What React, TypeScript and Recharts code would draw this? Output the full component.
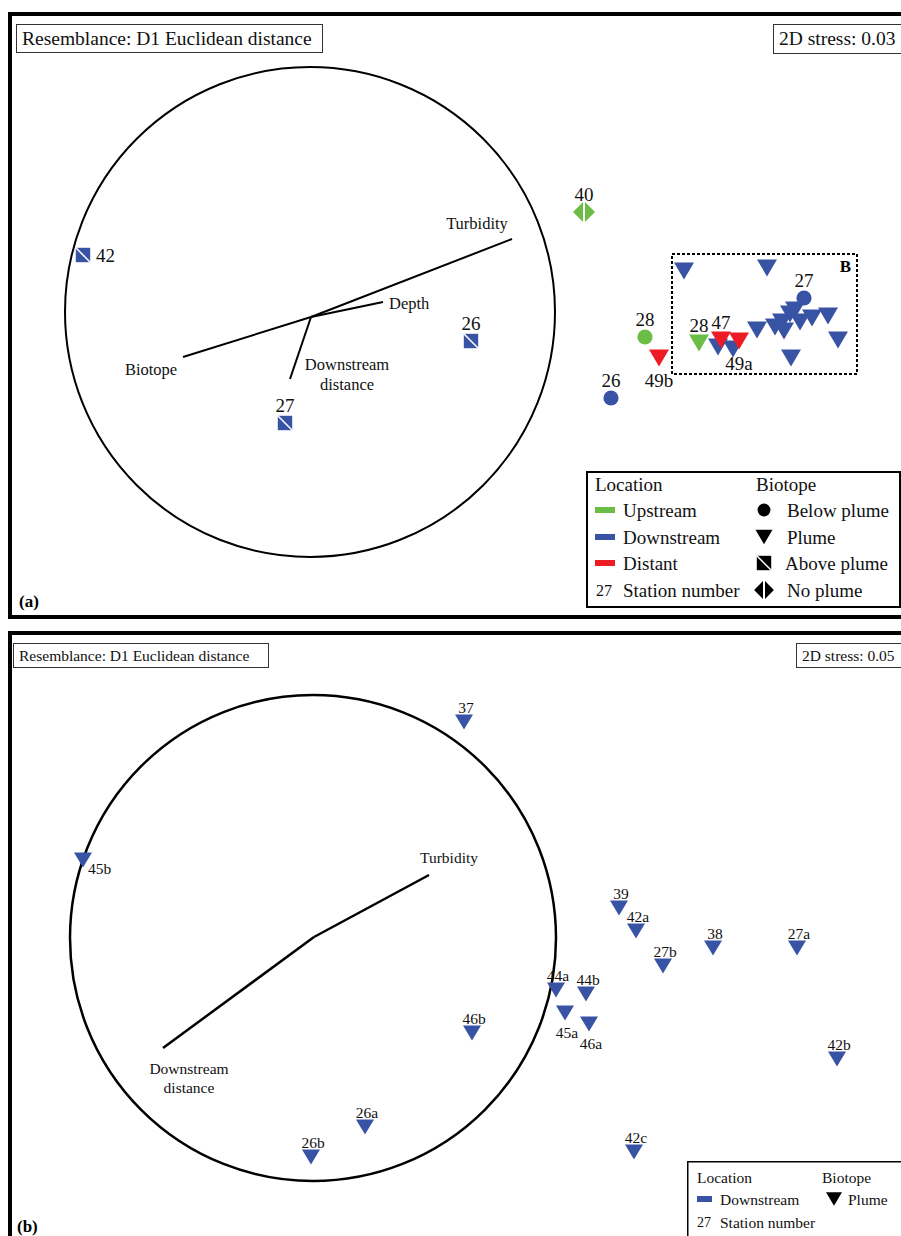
import React from "react";
import {
  ScatterChart,
  Scatter,
  XAxis,
  YAxis,
  ReferenceLine,
  ReferenceDot,
  ReferenceArea,
} from "recharts";

type Biotope = "below" | "plume" | "above" | "none";
type Side = "top" | "bottom" | "right" | "rightBelow";

interface Station {
  label: string;
  biotope: Biotope;
  x: number;
  y: number;
}

interface Vector {
  name: string[];
  x: number;
  y: number;
}

// ---- panel (a): nMDS scores, 3 locations
const upstreamA: Station[] = [
  { label: "40", biotope: "none", x: 2.74, y: 1.0 },
  { label: "28", biotope: "below", x: 3.35, y: -0.25 },
  { label: "28", biotope: "plume", x: 3.89, y: -0.31 },
];

const downstreamA: Station[] = [
  { label: "42", biotope: "above", x: -2.27, y: 0.57 },
  { label: "26", biotope: "above", x: 1.61, y: -0.29 },
  { label: "27", biotope: "above", x: -0.25, y: -1.11 },
  { label: "26", biotope: "below", x: 3.01, y: -0.86 },
  { label: "27", biotope: "below", x: 4.94, y: 0.14 },
  { label: "", biotope: "plume", x: 3.74, y: 0.41 },
  { label: "", biotope: "plume", x: 4.57, y: 0.44 },
  { label: "", biotope: "plume", x: 4.08, y: -0.35 },
  { label: "", biotope: "plume", x: 4.23, y: -0.37 },
  { label: "", biotope: "plume", x: 4.47, y: -0.18 },
  { label: "", biotope: "plume", x: 4.65, y: -0.15 },
  { label: "", biotope: "plume", x: 4.72, y: -0.1 },
  { label: "", biotope: "plume", x: 4.74, y: -0.19 },
  { label: "", biotope: "plume", x: 4.8, y: -0.02 },
  { label: "", biotope: "plume", x: 4.85, y: 0.02 },
  { label: "", biotope: "plume", x: 4.9, y: -0.1 },
  { label: "", biotope: "plume", x: 5.02, y: -0.06 },
  { label: "", biotope: "plume", x: 5.18, y: -0.04 },
  { label: "", biotope: "plume", x: 5.28, y: -0.28 },
  { label: "", biotope: "plume", x: 4.81, y: -0.46 },
];

const distantA: Station[] = [
  { label: "47", biotope: "plume", x: 4.11, y: -0.28 },
  { label: "49a", biotope: "plume", x: 4.29, y: -0.29 },
  { label: "49b", biotope: "plume", x: 3.49, y: -0.46 },
];

const originA = { x: 0.01, y: -0.05 };
const vectorsA: Vector[] = [
  { name: ["Turbidity"], x: 2.02, y: 0.73 },
  { name: ["Biotope"], x: -1.27, y: -0.45 },
  { name: ["Depth"], x: 0.73, y: 0.1 },
  { name: ["Downstream", "distance"], x: -0.2, y: -0.67 },
];

// box "B" around the plume group
const boxB = { x1: 3.62, x2: 5.47, y1: 0.58, y2: -0.62 };

// ---- panel (b): downstream plume stations only
const downstreamB: Station[] = [
  { label: "37", biotope: "plume", x: 1.51, y: 2.16 },
  { label: "45b", biotope: "plume", x: -2.3, y: 0.78 },
  { label: "46b", biotope: "plume", x: 1.59, y: -0.95 },
  { label: "26a", biotope: "plume", x: 0.52, y: -1.89 },
  { label: "26b", biotope: "plume", x: -0.02, y: -2.19 },
  { label: "39", biotope: "plume", x: 3.06, y: 0.3 },
  { label: "42a", biotope: "plume", x: 3.23, y: 0.07 },
  { label: "38", biotope: "plume", x: 4.0, y: -0.1 },
  { label: "27a", biotope: "plume", x: 4.84, y: -0.1 },
  { label: "27b", biotope: "plume", x: 3.5, y: -0.28 },
  { label: "44a", biotope: "plume", x: 2.43, y: -0.52 },
  { label: "44b", biotope: "plume", x: 2.73, y: -0.56 },
  { label: "45a", biotope: "plume", x: 2.52, y: -0.75 },
  { label: "46a", biotope: "plume", x: 2.76, y: -0.86 },
  { label: "42b", biotope: "plume", x: 5.24, y: -1.21 },
  { label: "42c", biotope: "plume", x: 3.21, y: -2.14 },
];

const originB = { x: 0.01, y: 0.01 };
const vectorsB: Vector[] = [
  { name: ["Turbidity"], x: 1.16, y: 0.63 },
  { name: ["Downstream", "distance"], x: -1.5, y: -1.1 },
];

const resemblanceText = "Resemblance: D1 Euclidean distance";
const stressA = "2D stress: 0.03";
const stressB = "2D stress: 0.05";

// label placement (default: above the symbol)
const labelSideA: Record<string, Side> = { "42": "right", "49a": "bottom", "49b": "bottom" };
const labelSideB: Record<string, Side> = { "45b": "rightBelow", "45a": "bottom", "46a": "bottom" };

// vector label offsets in px from the arrow end
const vecLabelA: Record<string, { dx: number; dy: number; anchor: string }> = {
  Turbidity: { dx: -35, dy: -16, anchor: "middle" },
  Biotope: { dx: -32, dy: 12, anchor: "middle" },
  Depth: { dx: 6, dy: 1, anchor: "start" },
  Downstream: { dx: 57, dy: -15, anchor: "middle" },
};
const vecLabelB: Record<string, { dx: number; dy: number; anchor: string }> = {
  Turbidity: { dx: 20, dy: -18, anchor: "middle" },
  Downstream: { dx: 26, dy: 20, anchor: "middle" },
};

const FONT = '"Liberation Serif", "Times New Roman", serif';
const GREEN = "#6cbd45";
const BLUE = "#3953a4";
const RED = "#ed1c24";

function symbol(kind: Biotope, color: string, cx: number, cy: number, s: number) {
  if (kind === "below") return <circle cx={cx} cy={cy} r={s * 0.38} fill={color} />;
  if (kind === "plume") {
    const h = s * 0.42;
    return (
      <polygon
        points={`${cx - s / 2},${cy - h} ${cx + s / 2},${cy - h} ${cx},${cy + h}`}
        fill={color}
      />
    );
  }
  if (kind === "above") {
    const h = s * 0.36;
    return (
      <g>
        <rect x={cx - h} y={cy - h} width={h * 2} height={h * 2} fill={color} />
        <line x1={cx - h} y1={cy - h} x2={cx + h} y2={cy + h} stroke="#fff" strokeWidth={1.5} />
      </g>
    );
  }
  const w = s * 0.55;
  const h = s * 0.5;
  return (
    <g fill={color}>
      <polygon points={`${cx - w},${cy} ${cx - 1},${cy - h} ${cx - 1},${cy + h}`} />
      <polygon points={`${cx + w},${cy} ${cx + 1},${cy - h} ${cx + 1},${cy + h}`} />
    </g>
  );
}

function stationShape(
  color: string,
  size: number,
  fontSize: number,
  sides: Record<string, Side>,
  off: { top: number; bottom: number; right: number; dx: number }
) {
  return (props: any) => {
    const { cx, cy, payload } = props;
    const side = sides[payload.label] || "top";
    let tx = cx + off.dx;
    let ty = cy - off.top;
    let anchor = "middle";
    if (side === "bottom") ty = cy + off.bottom;
    if (side === "right") {
      tx = cx + off.right;
      ty = cy;
      anchor = "start";
    }
    if (side === "rightBelow") {
      tx = cx + 5;
      ty = cy + 8;
      anchor = "start";
    }
    return (
      <g>
        {symbol(payload.biotope, color, cx, cy, size)}
        {payload.label && (
          <text
            x={tx}
            y={ty}
            textAnchor={anchor}
            dominantBaseline="central"
            fontFamily={FONT}
            fontSize={fontSize}
            fill="#111"
          >
            {payload.label}
          </text>
        )}
      </g>
    );
  };
}

function vectorLabelShape(fontSize: number, offs: Record<string, { dx: number; dy: number; anchor: string }>) {
  return (props: any) => {
    const { cx, cy, payload } = props;
    const o = offs[payload.name[0]];
    return (
      <text
        x={cx + o.dx}
        y={cy + o.dy}
        textAnchor={o.anchor}
        dominantBaseline="central"
        fontFamily={FONT}
        fontSize={fontSize}
        fill="#111"
      >
        {payload.name.map((n: string, i: number) => (
          <tspan key={i} x={cx + o.dx} dy={i === 0 ? 0 : fontSize * 1.2}>
            {n}
          </tspan>
        ))}
      </text>
    );
  };
}

function LegendA() {
  const t = { fontFamily: FONT, fontSize: 19, fill: "#111" };
  const rows = [
    { name: "Upstream", color: GREEN, kind: "below" as Biotope, bio: "Below plume", y: 39 },
    { name: "Downstream", color: BLUE, kind: "plume" as Biotope, bio: "Plume", y: 66 },
    { name: "Distant", color: RED, kind: "above" as Biotope, bio: "Above plume", y: 92 },
  ];
  return (
    <svg
      width={320}
      height={140}
      style={{ position: "absolute", left: 586, top: 471, overflow: "visible" }}
    >
      <rect x={1} y={1} width={313} height={135} fill="#fff" stroke="#000" strokeWidth={2} />
      <text x={9} y={13} dominantBaseline="central" {...t}>Location</text>
      <text x={170} y={13} dominantBaseline="central" {...t}>Biotope</text>
      {rows.map((r) => (
        <g key={r.name}>
          <rect x={9} y={r.y - 3} width={20} height={6} fill={r.color} />
          <text x={37} y={r.y} dominantBaseline="central" {...t}>{r.name}</text>
          {symbol(r.kind, "#000", 178, r.y, r.kind === "above" ? 20 : 17)}
          <text x={r.kind === "above" ? 199 : 201} y={r.y} dominantBaseline="central" {...t}>{r.bio}</text>
        </g>
      ))}
      <text x={10} y={119} dominantBaseline="central" {...t} fontSize={16}>27</text>
      <text x={37} y={119} dominantBaseline="central" {...t}>Station number</text>
      {symbol("none", "#000", 178, 119, 18)}
      <text x={201} y={119} dominantBaseline="central" {...t}>No plume</text>
    </svg>
  );
}

function LegendB() {
  const t = { fontFamily: FONT, fontSize: 15.5, fill: "#111" };
  return (
    <svg
      width={220}
      height={80}
      style={{ position: "absolute", left: 687, top: 1161, overflow: "visible" }}
    >
      <rect x={0.75} y={0.75} width={230} height={100} fill="#fff" stroke="#000" strokeWidth={1.5} />
      <text x={10} y={16} dominantBaseline="central" {...t}>Location</text>
      <text x={135} y={16} dominantBaseline="central" {...t}>Biotope</text>
      <rect x={10} y={35} width={15} height={6} fill={BLUE} />
      <text x={33} y={38} dominantBaseline="central" {...t}>Downstream</text>
      {symbol("plume", "#000", 147, 38, 16)}
      <text x={161} y={38} dominantBaseline="central" {...t}>Plume</text>
      <text x={10} y={61} dominantBaseline="central" {...t} fontSize={14}>27</text>
      <text x={33} y={61} dominantBaseline="central" {...t}>Station number</text>
    </svg>
  );
}

const boxStyle = (left: number, top: number, width: number, height: number, fontSize: number) =>
  ({
    position: "absolute",
    left,
    top,
    width,
    height,
    boxSizing: "border-box",
    border: "1.5px solid #333",
    background: "#fff",
    fontFamily: FONT,
    fontSize,
    color: "#111",
    display: "flex",
    alignItems: "center",
    paddingLeft: 5,
    whiteSpace: "nowrap",
    overflow: "hidden",
  }) as React.CSSProperties;

export default function App() {
  const offA = { top: 18, bottom: 22, right: 13, dx: 0 };
  const offB = { top: 15, bottom: 19, right: 10, dx: 2 };
  return (
    <div
      style={{
        position: "absolute",
        left: 0,
        top: 0,
        width: 901,
        height: 1236,
        overflow: "hidden",
        background: "#fff",
      }}
    >
      {/* panel frames */}
      <div style={{ position: "absolute", left: 8, top: 12, width: 905, height: 607, border: "4px solid #000", boxSizing: "border-box" }} />
      <div style={{ position: "absolute", left: 8, top: 631, width: 905, height: 640, border: "4px solid #000", boxSizing: "border-box" }} />

      {/* panel (a) */}
      <div style={{ position: "absolute", left: 0, top: 0 }}>
        <ScatterChart width={900} height={620} margin={{ top: 0, right: 0, bottom: 0, left: 0 }}>
          <XAxis type="number" dataKey="x" domain={[-3.1, 5.9]} hide allowDataOverflow />
          <YAxis type="number" dataKey="y" domain={[-3.08, 3.12]} hide allowDataOverflow />
          <ReferenceDot x={0} y={0} r={245} fill="none" stroke="#000" strokeWidth={2} ifOverflow="visible" />
          {vectorsA.map((v) => (
            <ReferenceLine
              key={v.name[0]}
              segment={[originA, { x: v.x, y: v.y }]}
              stroke="#000"
              strokeWidth={2}
              ifOverflow="visible"
            />
          ))}
          <ReferenceArea
            x1={boxB.x1}
            x2={boxB.x2}
            y1={boxB.y1}
            y2={boxB.y2}
            fill="none"
            fillOpacity={0}
            stroke="#000"
            strokeWidth={2}
            strokeDasharray="3 2"
            ifOverflow="visible"
            label={{ value: "B", position: "insideTopRight", offset: 6, fontFamily: FONT, fontWeight: "bold", fontSize: 17, fill: "#000" }}
          />
          <Scatter data={vectorsA} isAnimationActive={false} shape={vectorLabelShape(16.5, vecLabelA)} />
          <Scatter data={downstreamA} isAnimationActive={false} shape={stationShape(BLUE, 20, 19, labelSideA, offA)} />
          <Scatter data={upstreamA} isAnimationActive={false} shape={stationShape(GREEN, 20, 19, labelSideA, offA)} />
          <Scatter data={distantA} isAnimationActive={false} shape={stationShape(RED, 20, 19, labelSideA, offA)} />
        </ScatterChart>
      </div>

      {/* panel (b) */}
      <div style={{ position: "absolute", left: 0, top: 620 }}>
        <ScatterChart width={900} height={616} margin={{ top: 0, right: 0, bottom: 0, left: 0 }}>
          <XAxis type="number" dataKey="x" domain={[-3.13, 5.87]} hide allowDataOverflow />
          <YAxis type="number" dataKey="y" domain={[-2.98, 3.18]} hide allowDataOverflow />
          <ReferenceDot x={0} y={0} r={243} fill="none" stroke="#000" strokeWidth={2.5} ifOverflow="visible" />
          {vectorsB.map((v) => (
            <ReferenceLine
              key={v.name[0]}
              segment={[originB, { x: v.x, y: v.y }]}
              stroke="#000"
              strokeWidth={2.5}
              ifOverflow="visible"
            />
          ))}
          <Scatter data={vectorsB} isAnimationActive={false} shape={vectorLabelShape(15.5, vecLabelB)} />
          <Scatter data={downstreamB} isAnimationActive={false} shape={stationShape(BLUE, 18, 15.5, labelSideB, offB)} />
        </ScatterChart>
      </div>

      {/* text boxes */}
      <div style={boxStyle(16, 24, 307, 29, 19.5)}>{resemblanceText}</div>
      <div style={boxStyle(773, 24, 140, 30, 19.5)}>{stressA}</div>
      <div style={boxStyle(13, 643, 256, 25, 15.5)}>{resemblanceText}</div>
      <div style={boxStyle(796, 643, 110, 25, 15.5)}>{stressB}</div>

      <div style={{ position: "absolute", left: 19, top: 592, fontFamily: FONT, fontWeight: "bold", fontSize: 17, lineHeight: "20px" }}>(a)</div>
      <div style={{ position: "absolute", left: 17, top: 1217, fontFamily: FONT, fontWeight: "bold", fontSize: 17, lineHeight: "20px" }}>(b)</div>

      <LegendA />
      <LegendB />
    </div>
  );
}
